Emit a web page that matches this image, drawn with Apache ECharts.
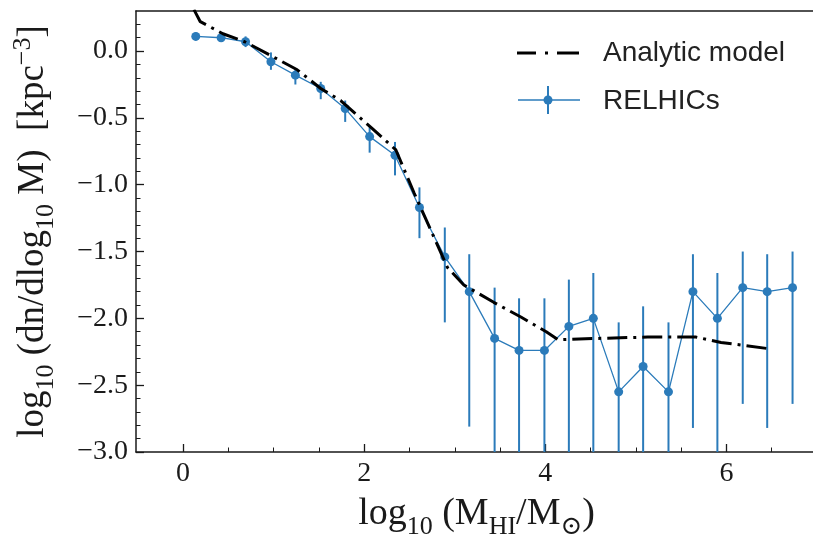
<!DOCTYPE html>
<html><head><meta charset="utf-8">
<script src="https://cdn.jsdelivr.net/npm/echarts@6/dist/echarts.min.js"></script>
<style>html,body{margin:0;padding:0;background:#fff}#c{width:813px;height:534px}</style>
</head><body><div id="c"></div>
<script>
// ---- data ----
const massBins   = [0.14, 0.42, 0.69, 0.97, 1.24, 1.52, 1.79, 2.06, 2.34, 2.61, 2.89, 3.16, 3.44, 3.71, 3.99, 4.26, 4.53, 4.81, 5.08, 5.36, 5.63, 5.90, 6.18, 6.45, 6.73];
const relhicVals = [0.11, 0.10, 0.07, -0.08, -0.18, -0.28, -0.43, -0.64, -0.78, -1.17, -1.54, -1.80, -2.15, -2.24, -2.24, -2.06, -2.00, -2.55, -2.36, -2.55, -1.80, -2.00, -1.77, -1.80, -1.77];
const errUpper   = [0.14, 0.13, 0.11, -0.01, -0.13, -0.23, -0.37, -0.57, -0.68, -1.02, -1.32, -1.52, -1.77, -1.85, -1.85, -1.71, -1.66, -2.03, -1.91, -2.03, -1.52, -1.66, -1.50, -1.52, -1.50];
const errLower   = [0.08, 0.07, 0.03, -0.14, -0.25, -0.36, -0.53, -0.76, -0.93, -1.40, -2.03, -2.81, -3.60, -3.60, -3.60, -3.60, -3.60, -3.60, -3.60, -3.60, -2.82, -3.60, -2.64, -2.82, -2.64];
const modelX = [0.12, 0.19, 0.44, 0.68, 0.96, 1.26, 1.52, 1.74, 2.09, 2.35, 2.55, 2.92, 3.10, 3.43, 3.73, 4.01, 4.14, 4.58, 5.13, 5.66, 5.94, 6.50];
const modelY = [0.31, 0.22, 0.13, 0.07, -0.03, -0.14, -0.28, -0.37, -0.58, -0.74, -1.06, -1.62, -1.75, -1.88, -1.99, -2.10, -2.16, -2.15, -2.14, -2.14, -2.18, -2.23];
const xTickVals = [0, 2, 4, 6];
const xMinorVals = [0.5, 1, 1.5, 2.5, 3, 3.5, 4.5, 5, 5.5, 6.5];
const yTickVals = [-3, -2.5, -2, -1.5, -1, -0.5, 0];
const yMinorVals = [-2.9,-2.8,-2.7,-2.6,-2.4,-2.3,-2.2,-2.1,-1.9,-1.8,-1.7,-1.6,-1.4,-1.3,-1.2,-1.1,-0.9,-0.8,-0.7,-0.6,-0.4,-0.3,-0.2,-0.1,0.1,0.2];
const seriesNames = ['Analytic model', 'RELHICs'];

const BLUE = '#2b7bba';
const INK = '#1a1a1a';
const SERIF = '"Liberation Serif", "DejaVu Serif", serif';
const SANS = '"Liberation Sans", "DejaVu Sans", sans-serif';
const X_RANGE = {min: -0.52, max: 7.0};
const Y_RANGE = {min: -3.0, max: 0.3};

const chart = echarts.init(document.getElementById('c'), null, {renderer: 'canvas'});
const fmtY = v => (v < -1e-9 ? '\u2212' : '') + Math.abs(v).toFixed(1);

const titleRich = {
  sub: {fontFamily: SERIF, fontSize: 26, color: INK, padding: [25, 0, 0, 0]},
  sup: {fontFamily: SERIF, fontSize: 26, color: INK, padding: [0, 0, 21, 0]}
};
const gridBox = {left: 136, top: 11, right: -4, bottom: 82, outerBoundsMode: 'none', containLabel: false};

const option = {
  animation: false,
  backgroundColor: '#fff',
  grid: [
    Object.assign({show: false}, gridBox),
    Object.assign({show: false}, gridBox)
  ],
  xAxis: [{
    gridIndex: 0, type: 'value', min: X_RANGE.min, max: X_RANGE.max, position: 'bottom',
    axisLine: {show: true, onZero: false, lineStyle: {color: INK, width: 1.5}},
    axisTick: {show: true, inside: true, length: 8, customValues: xTickVals, lineStyle: {color: INK, width: 1.3}},
    axisLabel: {customValues: xTickVals, fontFamily: SERIF, fontSize: 28, color: INK, margin: 8},
    splitLine: {show: false},
    name: 'log{sub|10} (M{sub|HI}/M{sub|\u2299})',
    nameLocation: 'middle', nameGap: 37,
    nameTextStyle: {fontFamily: SERIF, fontSize: 38, color: INK, rich: titleRich}
  }, {
    gridIndex: 0, type: 'value', min: X_RANGE.min, max: X_RANGE.max, position: 'top',
    axisLine: {show: true, onZero: false, lineStyle: {color: INK, width: 1.5}},
    axisTick: {show: false}, axisLabel: {show: false}, splitLine: {show: false}
  }, {
    gridIndex: 1, type: 'value', min: X_RANGE.min, max: X_RANGE.max, position: 'bottom',
    axisLine: {show: false, onZero: false},
    axisTick: {show: true, inside: true, length: 4.5, customValues: xMinorVals, lineStyle: {color: INK, width: 1}},
    axisLabel: {show: false}, splitLine: {show: false}
  }],
  yAxis: [{
    gridIndex: 0, type: 'value', min: Y_RANGE.min, max: Y_RANGE.max, position: 'left',
    axisLine: {show: true, onZero: false, lineStyle: {color: INK, width: 1.5}},
    axisTick: {show: true, inside: true, length: 8, customValues: yTickVals, lineStyle: {color: INK, width: 1.3}},
    axisLabel: {customValues: yTickVals, formatter: fmtY, fontFamily: SERIF, fontSize: 28, color: INK, margin: 8},
    splitLine: {show: false},
    name: 'log{sub|10} (dn/dlog{sub|10} M)  [kpc{sup|\u22123}]',
    nameLocation: 'middle', nameGap: 77, nameRotate: 90,
    nameTextStyle: {fontFamily: SERIF, fontSize: 37, color: INK, rich: titleRich}
  }, {
    gridIndex: 1, type: 'value', min: Y_RANGE.min, max: Y_RANGE.max, position: 'left',
    axisLine: {show: false, onZero: false},
    axisTick: {show: true, inside: true, length: 4.5, customValues: yMinorVals, lineStyle: {color: INK, width: 1}},
    axisLabel: {show: false}, splitLine: {show: false}
  }],
  series: [{
    name: seriesNames[1] + ' errors',
    type: 'custom', xAxisIndex: 0, yAxisIndex: 0, clip: true, z: 2,
    data: massBins.map((x, i) => [x, errLower[i], errUpper[i]]),
    encode: {x: 0, y: [1, 2]},
    renderItem: (params, api) => {
      const a = api.coord([api.value(0), api.value(1)]);
      const b = api.coord([api.value(0), api.value(2)]);
      return {type: 'line', shape: {x1: a[0], y1: a[1], x2: b[0], y2: b[1]}, style: {stroke: BLUE, lineWidth: 2}};
    }
  }, {
    name: seriesNames[1], type: 'line', xAxisIndex: 0, yAxisIndex: 0, z: 3,
    data: massBins.map((x, i) => [x, relhicVals[i]]),
    symbol: 'circle', symbolSize: 9, showSymbol: true,
    itemStyle: {color: BLUE}, lineStyle: {color: BLUE, width: 1.3}
  }, {
    name: seriesNames[0], type: 'line', xAxisIndex: 0, yAxisIndex: 0, z: 4, clip: true,
    data: modelX.map((x, i) => [x, modelY[i]]),
    symbol: 'none',
    lineStyle: {color: '#000', width: 3, type: [20, 6, 3, 6]}
  }],
  graphic: [
    {type: 'line', shape: {x1: 517, y1: 53, x2: 536, y2: 53}, style: {stroke: '#000', lineWidth: 3}},
    {type: 'line', shape: {x1: 545, y1: 53, x2: 548, y2: 53}, style: {stroke: '#000', lineWidth: 3}},
    {type: 'line', shape: {x1: 557, y1: 53, x2: 579, y2: 53}, style: {stroke: '#000', lineWidth: 3}},
    {type: 'text', left: 603, top: 39, style: {text: seriesNames[0], fontFamily: SANS, fontSize: 28, fill: '#222'}},
    {type: 'line', shape: {x1: 518, y1: 100, x2: 580, y2: 100}, style: {stroke: BLUE, lineWidth: 1.3}},
    {type: 'line', shape: {x1: 548, y1: 86, x2: 548, y2: 114}, style: {stroke: BLUE, lineWidth: 2}},
    {type: 'circle', shape: {cx: 548, cy: 100, r: 4.5}, style: {fill: BLUE}},
    {type: 'text', left: 603, top: 87, style: {text: seriesNames[1], fontFamily: SANS, fontSize: 28, fill: '#222'}}
  ]
};
chart.setOption(option);
</script>
</body></html>
